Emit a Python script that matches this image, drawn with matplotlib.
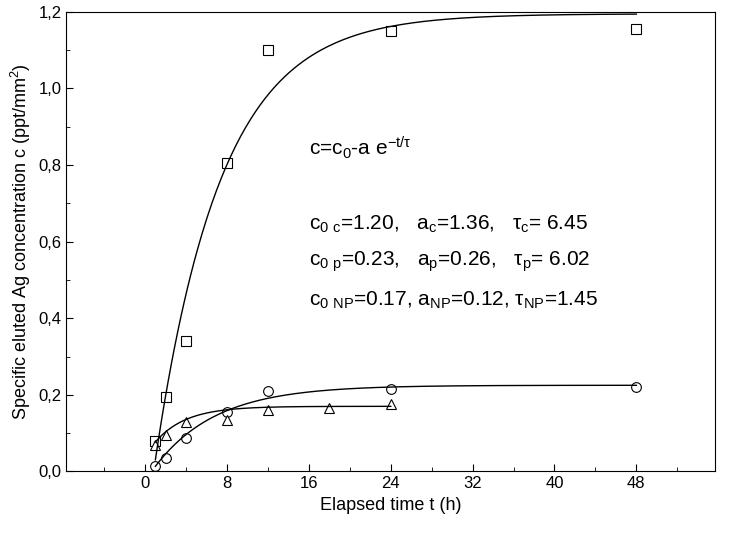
import numpy as np
import matplotlib.pyplot as plt
from matplotlib.ticker import FuncFormatter, MultipleLocator

plt.rcParams["font.family"] = ["Liberation Sans", "DejaVu Sans"]
plt.rcParams["mathtext.default"] = "regular"

# measured points
t_c = [1, 2, 4, 8, 12, 24, 48]
c_c = [0.08, 0.195, 0.34, 0.805, 1.10, 1.15, 1.155]
t_p = [1, 2, 4, 8, 12, 24, 48]
c_p = [0.015, 0.035, 0.088, 0.155, 0.21, 0.215, 0.22]
t_np = [1, 2, 4, 8, 12, 18, 24]
c_np = [0.07, 0.095, 0.13, 0.135, 0.16, 0.165, 0.175]

# drawn fit curves (c0, a, tau, t_end)
fit_c = (1.195, 1.36, 6.45, 48)
fit_p = (0.225, 0.25, 6.02, 48)
fit_np = (0.17, 0.13, 3.0, 24)

fig, ax = plt.subplots(figsize=(7.29, 5.40), dpi=100)
fig.subplots_adjust(left=0.091, right=0.981, top=0.978, bottom=0.127)

mk = dict(linestyle="none", markerfacecolor="white", markeredgecolor="black",
          markeredgewidth=0.8, markersize=7)
ax.plot(t_c, c_c, marker="s", **mk)
ax.plot(t_p, c_p, marker="o", **mk)
ax.plot(t_np, c_np, marker="^", **mk)

for c0, a, tau, tend in (fit_c, fit_p, fit_np):
    tt = np.linspace(1, tend, 300)
    ax.plot(tt, c0 - a * np.exp(-tt / tau), color="black", lw=1)

ax.set_xlim(-7.7, 55.7)
ax.set_ylim(0, 1.2)
ax.xaxis.set_major_locator(MultipleLocator(8))
ax.xaxis.set_minor_locator(MultipleLocator(4))
ax.yaxis.set_major_locator(MultipleLocator(0.2))
ax.yaxis.set_minor_locator(MultipleLocator(0.1))
ax.yaxis.set_major_formatter(FuncFormatter(lambda v, p: f"{v:.1f}".replace(".", ",")))
ax.tick_params(which="both", direction="in", labelsize=12)
ax.tick_params(which="major", length=5)
ax.tick_params(which="minor", length=3)

ax.set_xlabel("Elapsed time t (h)", fontsize=13)
ax.set_ylabel("Specific eluted Ag concentration c (ppt/mm$^2$)", fontsize=13)

fs = 15
kw = dict(fontsize=fs, va="center")
ax.text(16.0, 0.845, r"c=c$_0$-a e$^{-t/\tau}$", **kw)
ax.text(16.0, 0.645, r"c$_{0\ c}$=1.20,   a$_c$=1.36,   $\tau_c$= 6.45", **kw)
ax.text(16.0, 0.548, r"c$_{0\ p}$=0.23,   a$_p$=0.26,   $\tau_p$= 6.02", **kw)
ax.text(16.0, 0.448, r"c$_{0\ NP}$=0.17, a$_{NP}$=0.12, $\tau_{NP}$=1.45", **kw)

fig.savefig("out.png")
